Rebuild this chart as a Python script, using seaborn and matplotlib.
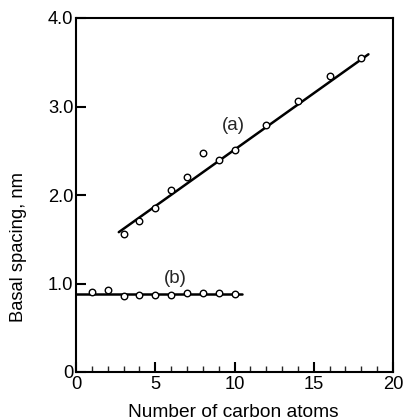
import matplotlib
matplotlib.use("Agg")
import matplotlib.pyplot as plt
import seaborn as sns
import pandas as pd
from matplotlib.ticker import MultipleLocator, FixedLocator

sns.set_theme(style="ticks")
plt.rcParams['font.family'] = ['Liberation Sans', 'DejaVu Sans']

# Series (a)
carbon_a = [3, 4, 5, 6, 7, 8, 9, 10, 12, 14, 16, 18]
spacing_a = [1.56, 1.71, 1.85, 2.06, 2.20, 2.47, 2.39, 2.51, 2.79, 3.06, 3.34, 3.55]
# Series (b)
carbon_b = [1, 2, 3, 4, 5, 6, 7, 8, 9, 10]
spacing_b = [0.90, 0.93, 0.86, 0.875, 0.87, 0.875, 0.89, 0.89, 0.89, 0.88]
# Fitted lines (read endpoints)
line_a_x = [2.7, 18.45]
line_a_y = [1.58, 3.59]
line_b_x = [0.0, 10.5]
line_b_y = [0.88, 0.88]

x_ticks = [0, 5, 10, 15, 20]
x_tick_labels = ["0", "5", "10", "15", "20"]
y_ticks = [0, 1, 2, 3, 4]
y_tick_labels = ["0", "1.0", "2.0", "3.0", "4.0"]

df_a = pd.DataFrame({"x": carbon_a, "y": spacing_a})
df_b = pd.DataFrame({"x": carbon_b, "y": spacing_b})
df_la = pd.DataFrame({"x": line_a_x, "y": line_a_y})
df_lb = pd.DataFrame({"x": line_b_x, "y": line_b_y})

fig = plt.figure(figsize=(4.07, 4.20), dpi=100)
ax = fig.add_axes([76/407, 1-372/420, (393-76)/407, (372-18)/420])

sns.lineplot(data=df_la, x="x", y="y", ax=ax, color="black", lw=1.8)
sns.lineplot(data=df_lb, x="x", y="y", ax=ax, color="black", lw=1.8)
for d in (df_a, df_b):
    sns.scatterplot(data=d, x="x", y="y", ax=ax, marker="o", s=22,
                    facecolor="white", edgecolor="black", linewidth=1.0, zorder=5)

ax.set_xlim(0, 20)
ax.set_ylim(0, 4)
ax.xaxis.set_major_locator(FixedLocator(x_ticks))
ax.set_xticklabels(x_tick_labels)
ax.xaxis.set_minor_locator(MultipleLocator(1))
ax.yaxis.set_major_locator(FixedLocator(y_ticks))
ax.set_yticklabels(y_tick_labels)

ax.tick_params(axis="both", which="major", direction="in", length=7, width=1.5,
               labelsize=13.2, colors="black")
ax.tick_params(axis="x", which="minor", direction="in", length=4, width=1.0)
ax.tick_params(axis="x", which="major", pad=3)
ax.tick_params(axis="y", which="major", pad=2)

for s in ax.spines.values():
    s.set_visible(True)
    s.set_linewidth(1.5)
    s.set_color("black")

ax.set_xlabel("Number of carbon atoms", fontsize=13.8, color="black")
ax.set_ylabel("Basal spacing, nm", fontsize=13.2, color="black")
ax.xaxis.set_label_coords(0.495, -0.09)
ax.yaxis.set_label_coords(-0.155, 0.353)

ax.text(9.93, 2.79, "(a)", fontsize=13.5, ha="center", va="center")
ax.text(6.25, 1.06, "(b)", fontsize=13.5, ha="center", va="center")

fig.savefig("out.png", dpi=100, facecolor="white")
